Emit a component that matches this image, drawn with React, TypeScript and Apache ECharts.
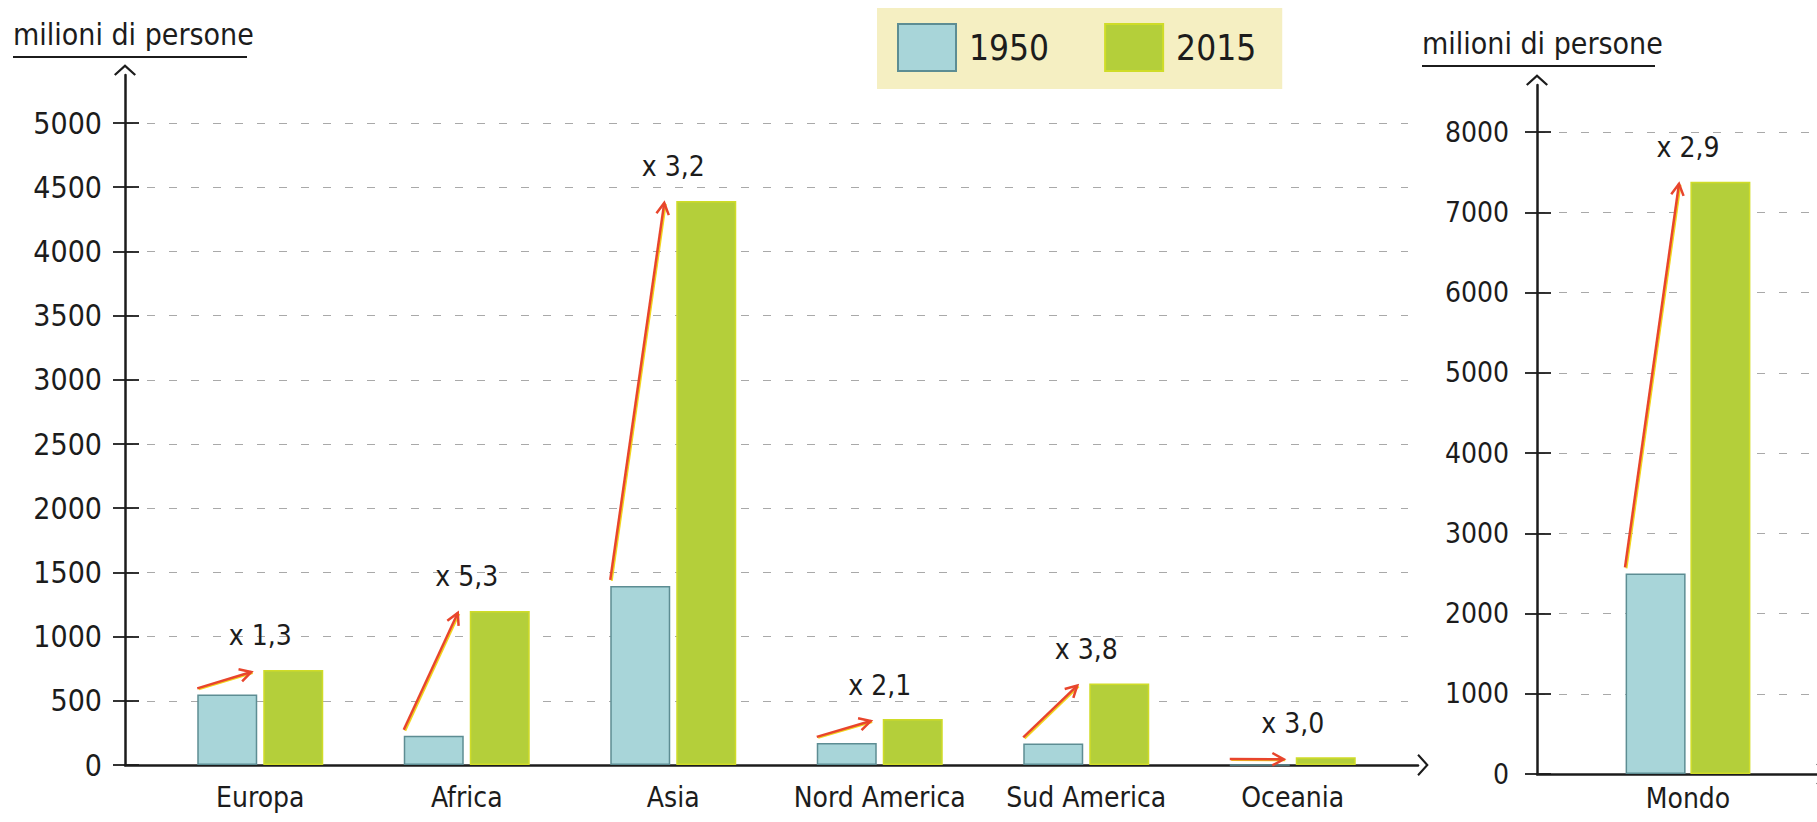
import React, { useEffect, useRef } from "react";
import * as echarts from "echarts";

const regions = ["Europa", "Africa", "Asia", "Nord America", "Sud America", "Oceania"];
const pop1950 = [550, 228, 1395, 172, 168, 0];
const pop2015 = [740, 1200, 4393, 358, 634, 60];
const ratios = ["x 1,3", "x 5,3", "x 3,2", "x 2,1", "x 3,8", "x 3,0"];

const worldCat = ["Mondo"];
const world1950 = [2500];
const world2015 = [7380];
const worldRatio = ["x 2,9"];

const leftTicks = { min: 0, max: 5000, interval: 500 };
const rightTicks = { min: 0, max: 8000, interval: 1000 };

const FONT = "'DejaVu Sans Condensed', 'DejaVu Sans', sans-serif";
const INK = "#1c1c1c";
const BLUE = "#a8d5d9";
const BLUE_BORDER = "#5d8d93";
const GREEN = "#b4cf3a";
const GREEN_BORDER = "#cfdc28";
const RED = "#e8452c";
const YELLOW = "#f1d51e";

const CHEVRON = "path://M10,0 L20,9 L18.6,10.4 L10,2.6 L1.4,10.4 L0,9 Z";

function arrowRenderer(labels: string[]) {
  return (params: any, api: any) => {
    const i = api.value(0);
    const v1 = api.value(1);
    const v2 = api.value(2);
    const p1 = api.coord([i, v1]);
    const p2 = api.coord([i, v2]);
    const cx = p1[0];
    const sx = cx - 63;
    const sy = p1[1] - 6;
    const ex = cx - 9;
    const ey = p2[1] + 2;
    const ang = Math.atan2(ey - sy, ex - sx);
    const L = 13;
    const a1 = ang + Math.PI - 0.5;
    const a2 = ang + Math.PI + 0.5;
    const head = [
      [ex + L * Math.cos(a1), ey + L * Math.sin(a1)],
      [ex, ey],
      [ex + L * Math.cos(a2), ey + L * Math.sin(a2)],
    ];
    return {
      type: "group",
      children: [
        {
          type: "line",
          shape: { x1: sx + 1.5, y1: sy + 1, x2: ex + 1.5, y2: ey + 1 },
          style: { stroke: YELLOW, lineWidth: 2 },
        },
        {
          type: "line",
          shape: { x1: sx, y1: sy, x2: ex, y2: ey },
          style: { stroke: RED, lineWidth: 2.5 },
        },
        {
          type: "polyline",
          shape: { points: head },
          style: { stroke: RED, lineWidth: 2.5, fill: null },
        },
        {
          type: "text",
          style: {
            text: labels[params.dataIndex],
            x: cx,
            y: p2[1] - 34,
            align: "center",
            verticalAlign: "middle",
            font: `28px ${FONT}`,
            fill: INK,
          },
        },
      ],
    };
  };
}

const axisLineArrow = (show: boolean) => ({
  show,
  symbol: ["none", CHEVRON],
  symbolSize: [22, 12],
  symbolOffset: [0, 5],
  lineStyle: { color: INK, width: 2.5 },
});

const plain = (v: number) => String(v);

export default function App() {
  const ref = useRef<HTMLDivElement>(null);

  useEffect(() => {
    if (!ref.current) return;
    const chart = echarts.init(ref.current, undefined, { renderer: "svg" });

    const hidden = { show: false };
    const splitDashed = {
      show: true,
      lineStyle: { color: "#a9a9a9", width: 1.2, type: [8, 14] as any },
    };

    const option: any = {
      animation: false,
      backgroundColor: "#ffffff",
      textStyle: { fontFamily: FONT },
      legend: {
        data: ["1950", "2015"],
        left: 877,
        top: 8,
        backgroundColor: "#f5efc2",
        padding: [15, 26, 17, 20],
        itemWidth: 58,
        itemHeight: 47,
        itemGap: 55,
        icon: "rect",
        textStyle: { fontSize: 35, color: INK, fontFamily: FONT, padding: [0, 0, 0, 8] },
      },
      grid: [
        { left: 157, right: 421, top: 123, bottom: 57 },
        { left: 125, right: 409, top: 123, bottom: 57 },
        { left: 125, right: 399, top: 75, bottom: 57 },
        { left: 1560, right: 1, top: 132, bottom: 48 },
        { left: 1537, right: 0, top: 132, bottom: 48 },
        { left: 1537, right: -2, top: 85, bottom: 48 },
      ],
      xAxis: [
        {
          gridIndex: 0,
          type: "category",
          data: regions,
          axisLine: hidden,
          axisTick: hidden,
          axisLabel: { interval: 0, fontSize: 28, color: INK, margin: 18, fontFamily: FONT },
        },
        { gridIndex: 1, type: "value", show: false },
        {
          gridIndex: 2,
          type: "value",
          min: 0,
          max: 1,
          axisLine: axisLineArrow(true),
          axisTick: hidden,
          axisLabel: hidden,
          splitLine: hidden,
        },
        {
          gridIndex: 3,
          type: "category",
          data: worldCat,
          axisLine: hidden,
          axisTick: hidden,
          axisLabel: { interval: 0, fontSize: 28, color: INK, margin: 10, fontFamily: FONT },
        },
        { gridIndex: 4, type: "value", show: false },
        {
          gridIndex: 5,
          type: "value",
          min: 0,
          max: 1,
          axisLine: axisLineArrow(true),
          axisTick: hidden,
          axisLabel: hidden,
          splitLine: hidden,
        },
      ],
      yAxis: [
        { gridIndex: 0, type: "value", ...leftTicks, show: false },
        {
          gridIndex: 1,
          type: "value",
          position: "left",
          ...leftTicks,
          axisLine: hidden,
          axisTick: { show: true, length: 12, lineStyle: { color: INK, width: 1.8 } },
          axisLabel: { fontSize: 30, color: INK, margin: 23, fontFamily: FONT, formatter: plain },
          splitLine: splitDashed,
        },
        {
          gridIndex: 1,
          type: "value",
          position: "left",
          offset: 0,
          ...leftTicks,
          axisLine: hidden,
          axisTick: { show: true, inside: true, length: 14, lineStyle: { color: INK, width: 1.8 } },
          axisLabel: hidden,
          splitLine: hidden,
        },
        {
          gridIndex: 2,
          type: "value",
          min: 0,
          max: 1,
          axisLine: axisLineArrow(true),
          axisTick: hidden,
          axisLabel: hidden,
          splitLine: hidden,
        },
        { gridIndex: 3, type: "value", ...rightTicks, show: false },
        {
          gridIndex: 4,
          type: "value",
          position: "left",
          ...rightTicks,
          axisLine: hidden,
          axisTick: { show: true, length: 12, lineStyle: { color: INK, width: 1.8 } },
          axisLabel: { fontSize: 28, color: INK, margin: 28, fontFamily: FONT, formatter: plain },
          splitLine: splitDashed,
        },
        {
          gridIndex: 4,
          type: "value",
          position: "left",
          offset: 0,
          ...rightTicks,
          axisLine: hidden,
          axisTick: { show: true, inside: true, length: 14, lineStyle: { color: INK, width: 1.8 } },
          axisLabel: hidden,
          splitLine: hidden,
        },
        {
          gridIndex: 5,
          type: "value",
          min: 0,
          max: 1,
          axisLine: axisLineArrow(true),
          axisTick: hidden,
          axisLabel: hidden,
          splitLine: hidden,
        },
      ],
      series: [
        {
          name: "1950",
          type: "bar",
          xAxisIndex: 0,
          yAxisIndex: 0,
          data: pop1950,
          barWidth: 60,
          barGap: "10%",
          itemStyle: { color: BLUE, borderColor: BLUE_BORDER, borderWidth: 1.5 },
        },
        {
          name: "2015",
          type: "bar",
          xAxisIndex: 0,
          yAxisIndex: 0,
          data: pop2015,
          barWidth: 60,
          barGap: "10%",
          itemStyle: { color: GREEN, borderColor: GREEN_BORDER, borderWidth: 1.5 },
        },
        {
          name: "1950",
          type: "bar",
          xAxisIndex: 3,
          yAxisIndex: 4,
          data: world1950,
          barWidth: 60,
          barGap: "8%",
          itemStyle: { color: BLUE, borderColor: BLUE_BORDER, borderWidth: 1.5 },
        },
        {
          name: "2015",
          type: "bar",
          xAxisIndex: 3,
          yAxisIndex: 4,
          data: world2015,
          barWidth: 60,
          barGap: "8%",
          itemStyle: { color: GREEN, borderColor: GREEN_BORDER, borderWidth: 1.5 },
        },
        {
          name: "ratios",
          type: "custom",
          xAxisIndex: 0,
          yAxisIndex: 0,
          clip: false,
          silent: true,
          encode: { x: 0, y: [1, 2] },
          data: regions.map((_, i) => [i, pop1950[i], pop2015[i]]),
          renderItem: arrowRenderer(ratios),
          z: 5,
        },
        {
          name: "ratioWorld",
          type: "custom",
          xAxisIndex: 3,
          yAxisIndex: 4,
          clip: false,
          silent: true,
          encode: { x: 0, y: [1, 2] },
          data: worldCat.map((_, i) => [i, world1950[i], world2015[i]]),
          renderItem: arrowRenderer(worldRatio),
          z: 5,
        },
      ],
      graphic: [
        {
          type: "text",
          left: 13,
          top: 19,
          style: { text: "milioni di persone", font: `30px ${FONT}`, fill: INK },
        },
        {
          type: "line",
          shape: { x1: 13, y1: 57, x2: 247, y2: 57 },
          style: { stroke: INK, lineWidth: 1.8 },
        },
        {
          type: "text",
          left: 1422,
          top: 28,
          style: { text: "milioni di persone", font: `30px ${FONT}`, fill: INK },
        },
        {
          type: "line",
          shape: { x1: 1422, y1: 66, x2: 1655, y2: 66 },
          style: { stroke: INK, lineWidth: 1.8 },
        },
      ],
    };

    chart.setOption(option);
    return () => chart.dispose();
  }, []);

  return (
    <div
      ref={ref}
      style={{ position: "fixed", left: 0, top: 0, width: 1817, height: 822, background: "#fff" }}
    />
  );
}
